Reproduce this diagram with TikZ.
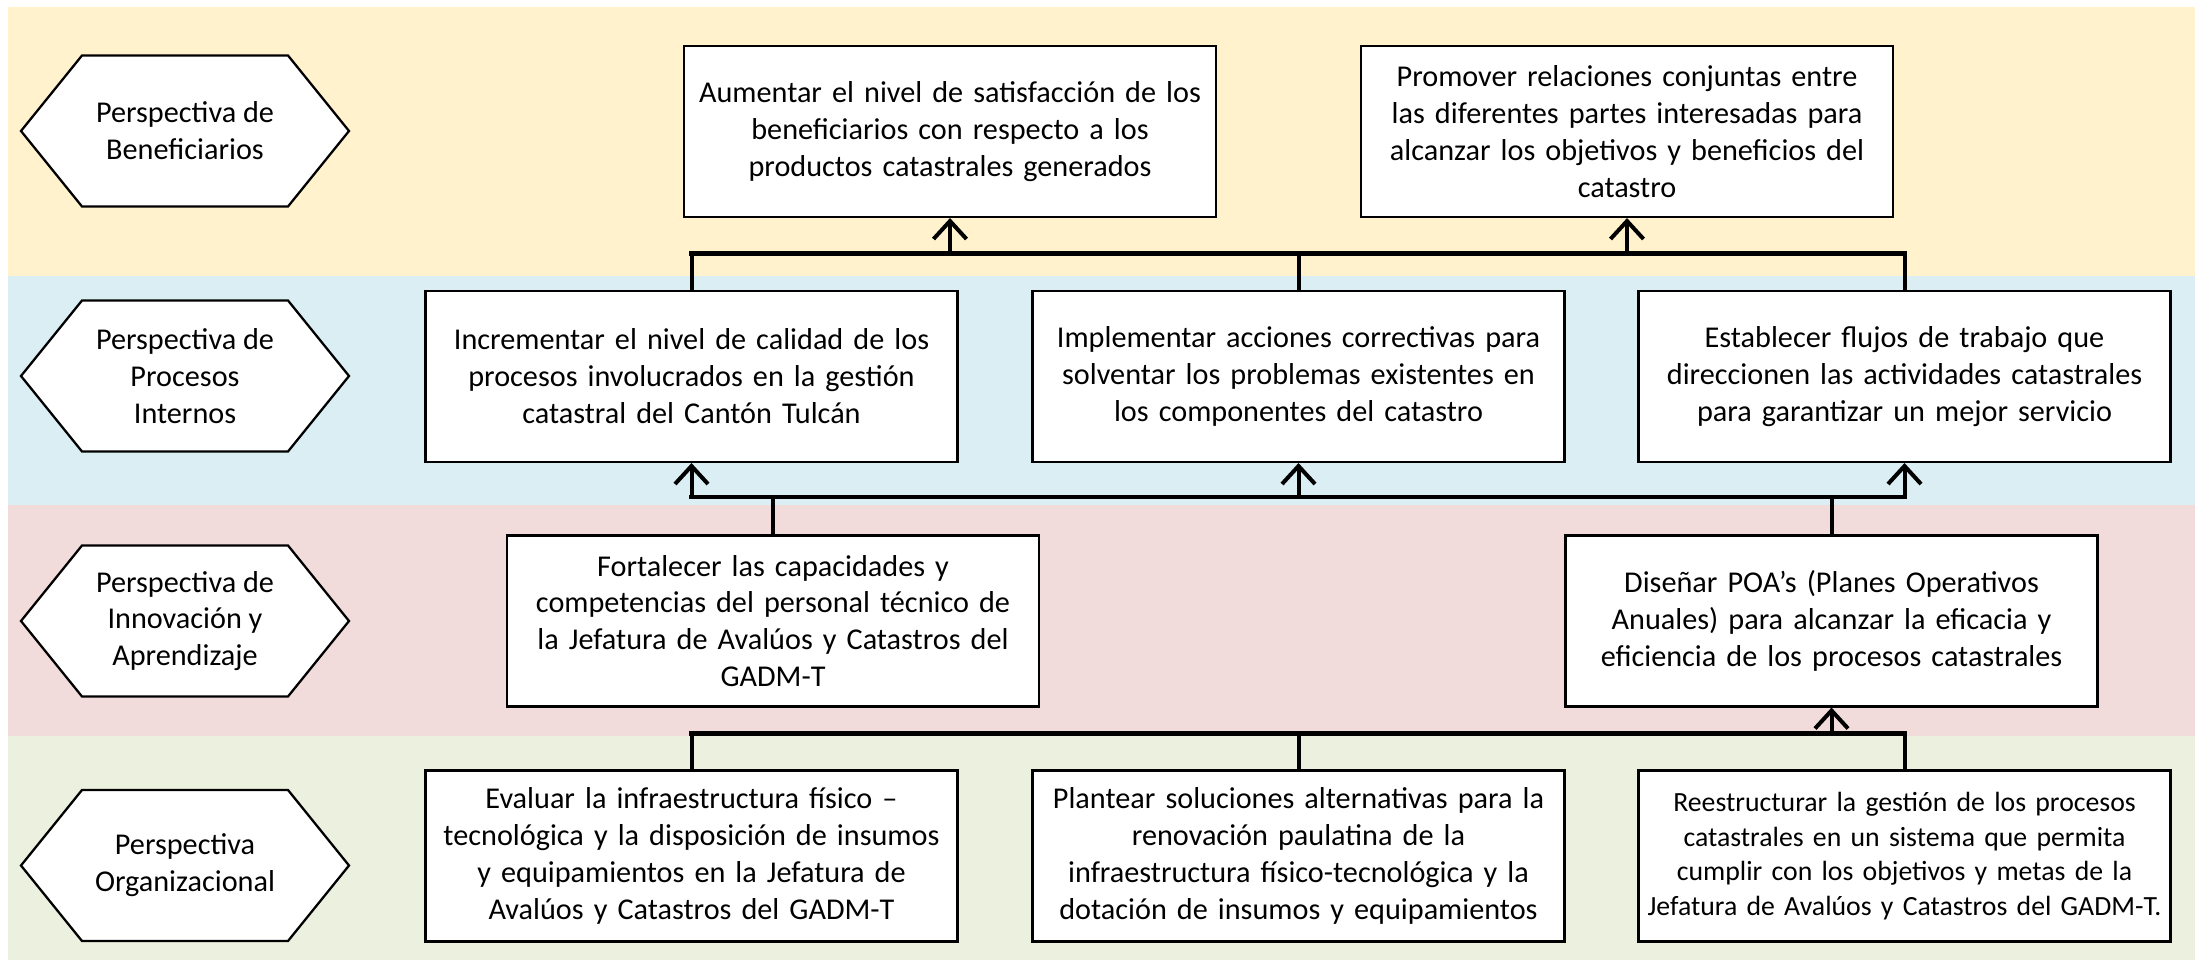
\documentclass[tikz,border=0pt]{standalone}
\usepackage{fontspec}
\setmainfont{Carlito}
\usepackage{xcolor}
\definecolor{bandy}{HTML}{FFF2CC}
\definecolor{bandb}{HTML}{DAEEF3}
\definecolor{bandr}{HTML}{F2DCDB}
\definecolor{bandg}{HTML}{EBF1DE}
\usetikzlibrary{arrows.meta}

\begin{document}
\begin{tikzpicture}[
    objbox/.style={draw, fill=white, line width=0.6pt, minimum width=5.32cm, minimum height=1.71cm,
        text width=5.3cm, align=center, inner sep=0pt, font=\fontsize{8.6}{10.5}\selectfont},
    hexlabel/.style={align=center, inner sep=0pt, font=\fontsize{8.6}{10.5}\selectfont},
    hexline/.style={fill=white, draw, line width=0.65pt, line join=miter},
    busline/.style={line width=1.42pt, line cap=rect},
    stemline/.style={line width=1.14pt},
    upline/.style={line width=1.14pt, -{Straight Barb[length=1.8mm, width=3.3mm]}}
]
    \useasboundingbox (0,0) rectangle (21.95,9.61);

    % Background bands
    \fill[bandy] (0.08,9.54) rectangle (21.95,6.85);
    \fill[bandb] (0.08,6.85) rectangle (21.95,4.56);
    \fill[bandr] (0.08,4.56) rectangle (21.95,2.25);
    \fill[bandg] (0.08,2.25) rectangle (21.95,0.01);

    % Perspectives
    \foreach \y/\nm/\txt in {8.30/pbenef/{Perspectiva de\\Beneficiarios},
                             5.85/pprocesos/{Perspectiva de\\Procesos\\Internos},
                             3.40/pinnov/{Perspectiva de\\Innovación y\\Aprendizaje},
                             0.955/porgan/{Perspectiva\\Organizacional}} {
        \draw[hexline] (0.21,\y) -- ++(0.61,0.755) -- ++(2.06,0) -- ++(0.61,-0.755)
            -- ++(-0.61,-0.755) -- ++(-2.06,0) -- cycle;
        \node[hexlabel] (\nm) at (1.85,\y) {\txt};
    }

    % Objectives
    \node[objbox] (osatisf) at (9.50,8.295) {Aumentar el nivel de satisfacción de los\\beneficiarios con respecto a los\\productos catastrales generados};
    \node[objbox] (orelac) at (16.27,8.295) {Promover relaciones conjuntas entre\\las diferentes partes interesadas para\\alcanzar los objetivos y beneficios del\\catastro};

    \node[objbox] (ocalidad) at (6.915,5.845) {Incrementar el nivel de calidad de los\\procesos involucrados en la gestión\\catastral del Cantón Tulcán};
    \node[objbox] (ocorrect) at (12.985,5.845) {Implementar acciones correctivas para\\solventar los problemas existentes en\\los componentes del catastro};
    \node[objbox] (oflujos) at (19.045,5.845) {Establecer flujos de trabajo que\\direccionen las actividades catastrales\\para garantizar un mejor servicio};

    \node[objbox] (ocapac) at (7.73,3.40) {Fortalecer las capacidades y\\competencias del personal técnico de\\la Jefatura de Avalúos y Catastros del\\GADM-T};
    \node[objbox] (opoa) at (18.315,3.40) {Diseñar POA’s (Planes Operativos\\Anuales) para alcanzar la eficacia y\\eficiencia de los procesos catastrales};

    \node[objbox] (oinfra) at (6.915,1.05) {Evaluar la infraestructura físico –\\tecnológica y la disposición de insumos\\y equipamientos en la Jefatura de\\Avalúos y Catastros del GADM-T};
    \node[objbox] (osoluc) at (12.985,1.05) {Plantear soluciones alternativas para la\\renovación paulatina de la\\infraestructura físico-tecnológica y la\\dotación de insumos y equipamientos};
    \node[objbox, font=\fontsize{7.9}{9.8}\selectfont] (oreestr) at (19.045,1.05) {Reestructurar la gestión de los procesos\\catastrales en un sistema que permita\\cumplir con los objetivos y metas de la\\Jefatura de Avalúos y Catastros del GADM-T.};

    % Buses
    \coordinate (bustop) at (0,7.07);
    \coordinate (busmid) at (0,4.64);
    \coordinate (buslow) at (0,2.28);

    % Procesos -> Beneficiarios
    \foreach \n in {ocalidad, ocorrect, oflujos}
        \draw[stemline] (\n.north) -- (\n.north |- bustop);
    \draw[busline] (ocalidad.north |- bustop) -- (oflujos.north |- bustop);
    \draw[upline] (osatisf.south |- bustop) -- (osatisf.south);
    \draw[upline] (orelac.south |- bustop) -- (orelac.south);

    % Innovacion -> Procesos
    \foreach \n in {ocapac, opoa}
        \draw[stemline] (\n.north) -- (\n.north |- busmid);
    \draw[busline] (ocalidad.south |- busmid) -- (oflujos.south |- busmid);
    \foreach \n in {ocalidad, ocorrect, oflujos}
        \draw[upline] (\n.south |- busmid) -- (\n.south);

    % Organizacional -> Innovacion
    \foreach \n in {oinfra, osoluc, oreestr}
        \draw[stemline] (\n.north) -- (\n.north |- buslow);
    \draw[busline] (oinfra.north |- buslow) -- (oreestr.north |- buslow);
    \draw[upline] (opoa.south |- buslow) -- (opoa.south);
\end{tikzpicture}
\end{document}
